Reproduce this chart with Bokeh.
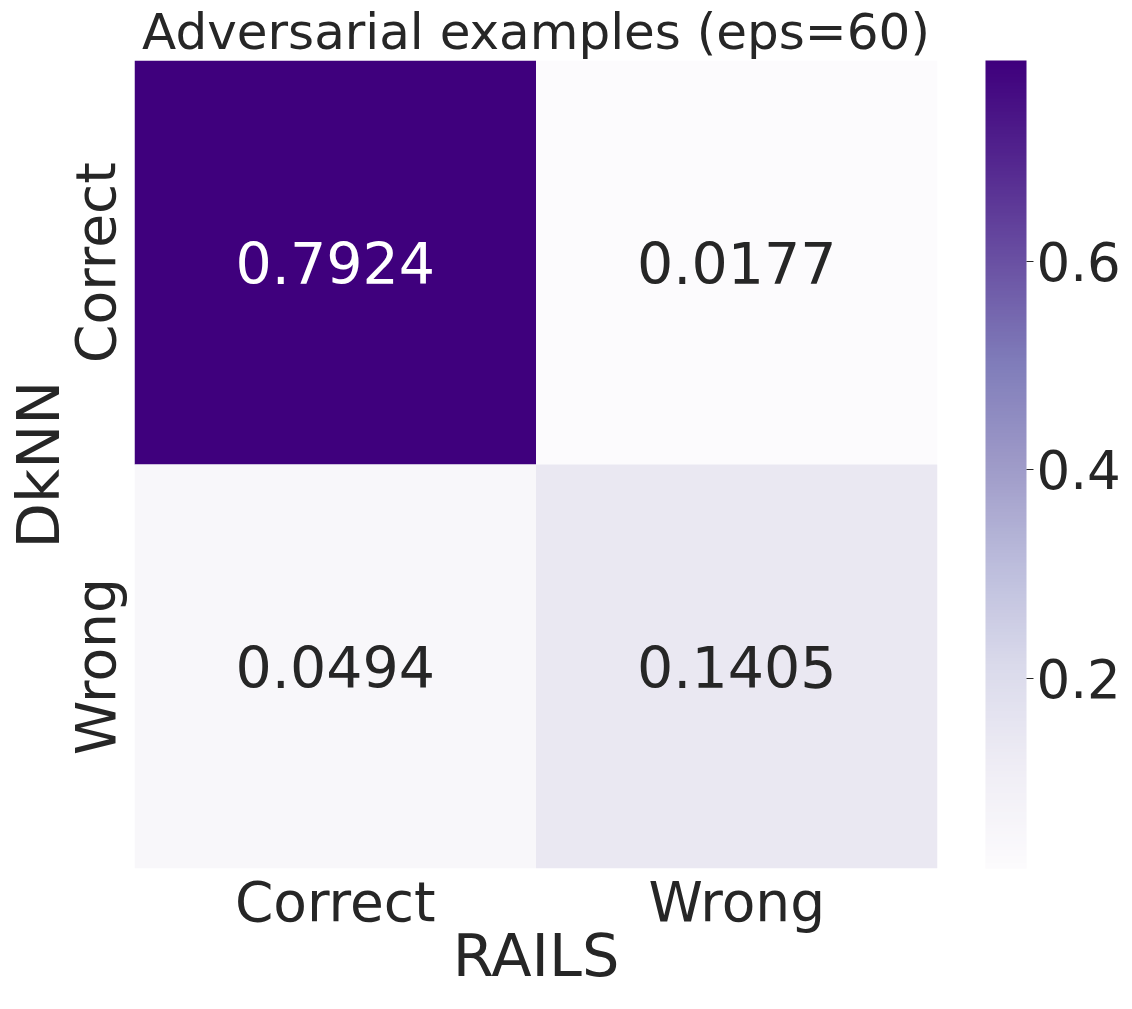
import numpy as np
from bokeh.plotting import figure
from bokeh.models import LinearColorMapper, ColorBar, FixedTicker, ColumnDataSource
from bokeh.palettes import Purples256
from bokeh.transform import transform
from bokeh.core.properties import value
from bokeh.embed import file_html
from bokeh.resources import INLINE

rails = ["Correct", "Wrong", "Correct", "Wrong"]
dknn = ["Correct", "Correct", "Wrong", "Wrong"]
values = [0.7924, 0.0177, 0.0494, 0.1405]
cbar_ticks = [0.2, 0.4, 0.6]

FONT = "DejaVu Sans"
TXT = "#262626"
FRAME_W, FRAME_H = 803, 808

labels = ["%.4f" % v for v in values]
vmin, vmax = min(values), max(values)
text_colors = ["white" if (v - vmin) / (vmax - vmin) > 0.5 else TXT for v in values]

src = ColumnDataSource(dict(x=rails, y=dknn, v=values, label=labels, tc=text_colors))

mapper = LinearColorMapper(palette=list(Purples256[::-1]), low=vmin, high=vmax)

p = figure(frame_width=FRAME_W, frame_height=FRAME_H, x_range=["Correct", "Wrong"],
           y_range=["Wrong", "Correct"], output_backend="svg", toolbar_location=None,
           min_border_left=126, min_border_right=184, min_border_top=50, min_border_bottom=100)
p.outline_line_color = None
p.grid.grid_line_color = None

p.rect(x="x", y="y", width=1, height=1, source=src, fill_color=transform("v", mapper),
       line_color=None)
p.text(x="x", y="y", text="label", source=src, text_color="tc", text_align="center",
       text_baseline="middle", text_font=value(FONT), text_font_size="57px")

for ax in (p.xaxis[0], p.yaxis[0]):
    ax.axis_line_color = None
    ax.major_tick_line_color = None
    ax.minor_tick_line_color = None
    ax.major_label_text_font = FONT
    ax.major_label_text_font_size = "55px"
    ax.major_label_text_color = TXT
    ax.axis_label_text_font = FONT
    ax.axis_label_text_font_size = "59px"
    ax.axis_label_text_font_style = "normal"
    ax.axis_label_text_color = TXT

p.xaxis.axis_label = "RAILS"
p.yaxis.axis_label = "DkNN"
p.yaxis.major_label_orientation = "vertical"
p.xaxis.major_label_standoff = -5
p.yaxis.major_label_standoff = 1
p.xaxis.axis_label_standoff = -16
p.yaxis.axis_label_standoff = -12

cb = ColorBar(color_mapper=mapper, ticker=FixedTicker(ticks=cbar_ticks), width=41, height=FRAME_H,
              margin=0, padding=0, bar_line_color=None, background_fill_color=None,
              major_tick_in=0, major_tick_out=7, major_tick_line_color=TXT,
              major_label_text_font=FONT, major_label_text_font_size="53px",
              major_label_text_color=TXT, label_standoff=3, location=(FRAME_W + 48, 0))
cb.major_label_overrides = {0.2: "0.2", 0.4: "0.4", 0.6: "0.6"}
p.add_layout(cb)

p.title.text = "Adversarial examples (eps=60)"
p.title.text_font = FONT
p.title.text_font_size = "50px"
p.title.text_font_style = "normal"
p.title.text_color = TXT
p.title.align = "center"
p.title.standoff = 0
p.title.text_line_height = 0.9

open("out.html", "w").write(file_html(p, INLINE))
